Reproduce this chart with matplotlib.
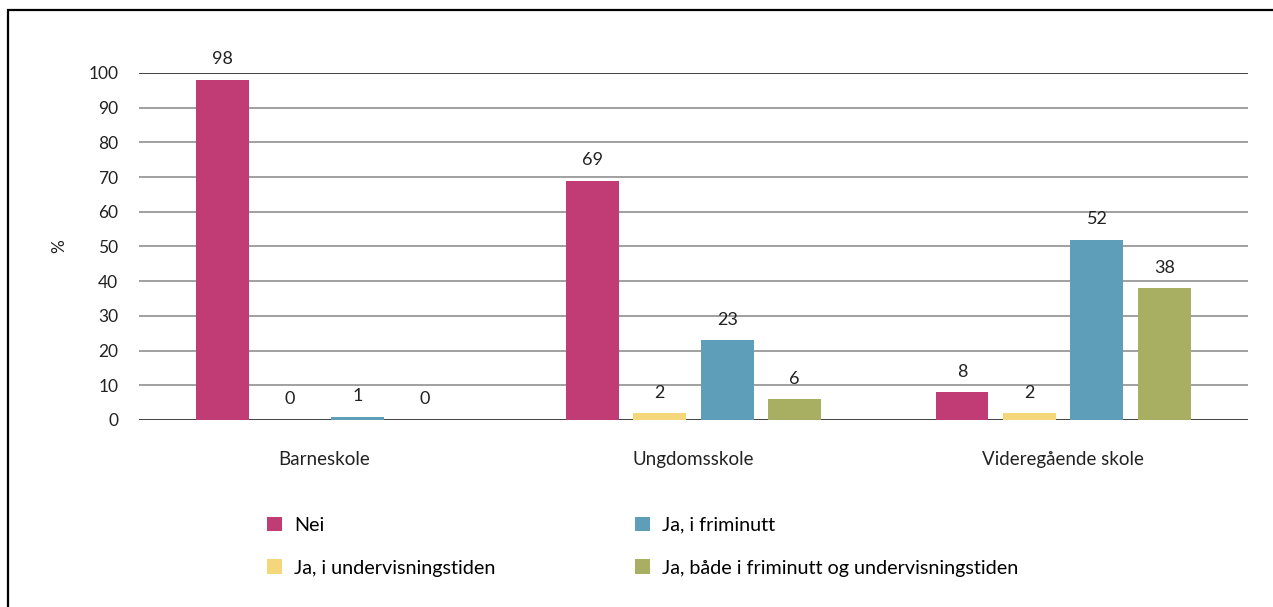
import matplotlib.pyplot as plt
import numpy as np
from matplotlib.patches import Rectangle

plt.rcParams['font.family'] = ['Lato', 'DejaVu Sans']

# data
groups = ['Barneskole', 'Ungdomsskole', 'Videregående skole']
series = ['Nei', 'Ja, i undervisningstiden', 'Ja, i friminutt',
          'Ja, både i friminutt og undervisningstiden']
nei = [98, 69, 8]
undervisning = [0, 2, 2]
friminutt = [1, 23, 52]
begge = [0, 6, 38]
colors = ['#C13B75', '#F4D77A', '#5E9EB8', '#A8AF62']

values = [nei, undervisning, friminutt, begge]

fig = plt.figure(figsize=(12.73, 6.07), dpi=100)
ax = fig.add_axes([0.1092, 0.3081, 0.8712, 0.5717])

x = np.arange(len(groups))
width = 0.143
step = 0.1824
bars = []
for i, (vals, c) in enumerate(zip(values, colors)):
    b = ax.bar(x + (i - 1.5) * step, vals, width, color=c, zorder=3, label=series[i])
    bars.append(b)
    for rect, v in zip(b, vals):
        ax.annotate(str(v), (rect.get_x() + rect.get_width() / 2, v),
                    xytext=(0, 9), textcoords='offset points',
                    ha='center', va='bottom', fontsize=13, color='#222222')

ax.set_xlim(-0.5, 2.5)
ax.set_ylim(0, 100)
ax.set_yticks(range(0, 101, 10))
for yv in range(0, 101, 10):
    col = '#333333' if yv in (0, 100) else '#999999'
    ax.axhline(yv, color=col, lw=1.3, zorder=1)
for s in ax.spines.values():
    s.set_visible(False)
ax.tick_params(axis='y', length=0, pad=15, labelsize=12.5, labelcolor='#222222')
ax.tick_params(axis='x', length=0, pad=22, labelsize=13.5, labelcolor='#222222')
ax.set_xticks(x)
ax.set_xticklabels(groups)
ax.set_ylabel('%', fontsize=12.5, color='#222222', labelpad=15)

# legend in two columns
h = [b[0] for b in bars]
kw = dict(loc='upper left', frameon=False, fontsize=14.2, handlelength=0.75,
          handleheight=0.75, handletextpad=0.6, labelspacing=1.3)
fig.legend([h[0], h[1]], [series[0], series[1]],
           bbox_to_anchor=(0.196, 0.178), **kw)
fig.legend([h[2], h[3]], [series[2], series[3]],
           bbox_to_anchor=(0.485, 0.178), **kw)

# outer frame
fig.add_artist(Rectangle((8 / 1273, -0.2), 1.5, 1 - 10 / 607 + 0.2,
                         transform=fig.transFigure, fill=False,
                         edgecolor='black', lw=1.6, clip_on=False))

fig.savefig('out.png', dpi=100)
